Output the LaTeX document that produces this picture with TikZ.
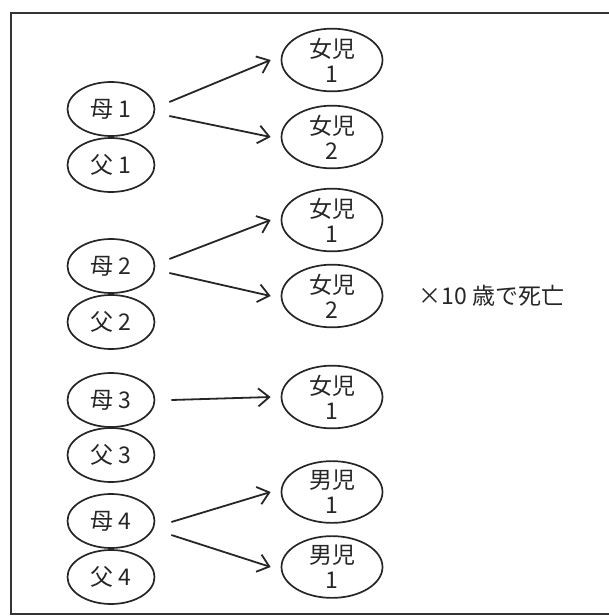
\documentclass[tikz,border=0pt]{standalone}
\usepackage{fontspec}
\newfontfamily\jpfont{Noto Sans CJK JP}
\usetikzlibrary{shapes.geometric,arrows.meta,positioning}

\begin{document}
\begin{tikzpicture}[x=1pt,y=-1pt,
  parent/.style={draw=black!85, text=black!85, ellipse, line width=1.7pt,
    minimum width=87pt, minimum height=54pt, inner sep=0pt,
    font=\jpfont\fontsize{23}{25}\selectfont},
  child/.style={parent, minimum width=101pt, minimum height=57pt, align=center},
  link/.style={-{Straight Barb[length=11pt,width=18pt]}, line width=1.8pt, draw=black!85}]

 \useasboundingbox (0,0) rectangle (609,616);
 \draw[line width=1.3pt, draw=black!80] (11,13) rectangle (615,614); % le cadre

% les parents
\node[parent] (m1) at (111,109) {母 1};
\node[parent] (f1) at (111,165) {父 1};
\node[parent] (m2) at (111,266) {母 2};
\node[parent] (f2) at (111,322) {父 2};
\node[parent] (m3) at (111,400) {母 3};
\node[parent] (f3) at (111,455) {父 3};
\node[parent] (m4) at (111,521) {母 4};
\node[parent] (f4) at (111,577) {父 4};

% les enfants
\node[child] (c11) at (332,60) {女児\\1};
\node[child] (c12) at (332,137) {女児\\2};
\node[child] (c21) at (332,220) {女児\\1};
\node[child] (c22) at (332,296) {女児\\2};
\node[child] (c31) at (332,397) {女児\\1};
\node[child] (c41) at (332,492) {男児\\1};
\node[child] (c42) at (332,567) {男児\\1};

\node[right=35pt of c22, inner sep=0pt, text=black!85,
  font=\jpfont\fontsize{23}{25}\selectfont] (death) {×10 歳で死亡};

% les fleches
\draw[link] ([xshift=14pt,yshift=7pt]m1.east) -- ([xshift=-10pt]c11.west);
\draw[link] ([xshift=14pt,yshift=-7pt]m1.east) -- ([xshift=-10pt]c12.west);
\draw[link] ([xshift=14pt,yshift=7pt]m2.east) -- ([xshift=-10pt]c21.west);
\draw[link] ([xshift=14pt,yshift=-7pt]m2.east) -- ([xshift=-10pt]c22.west);
\draw[link] ([xshift=16pt]m3.east) -- ([xshift=-10pt]c31.west);
\draw[link] ([xshift=16pt,yshift=-1pt]m4.east) -- ([xshift=-10pt]c41.west);
\draw[link] ([xshift=16pt,yshift=-14pt]m4.east) -- ([xshift=-10pt]c42.west);

\end{tikzpicture}
\end{document}
